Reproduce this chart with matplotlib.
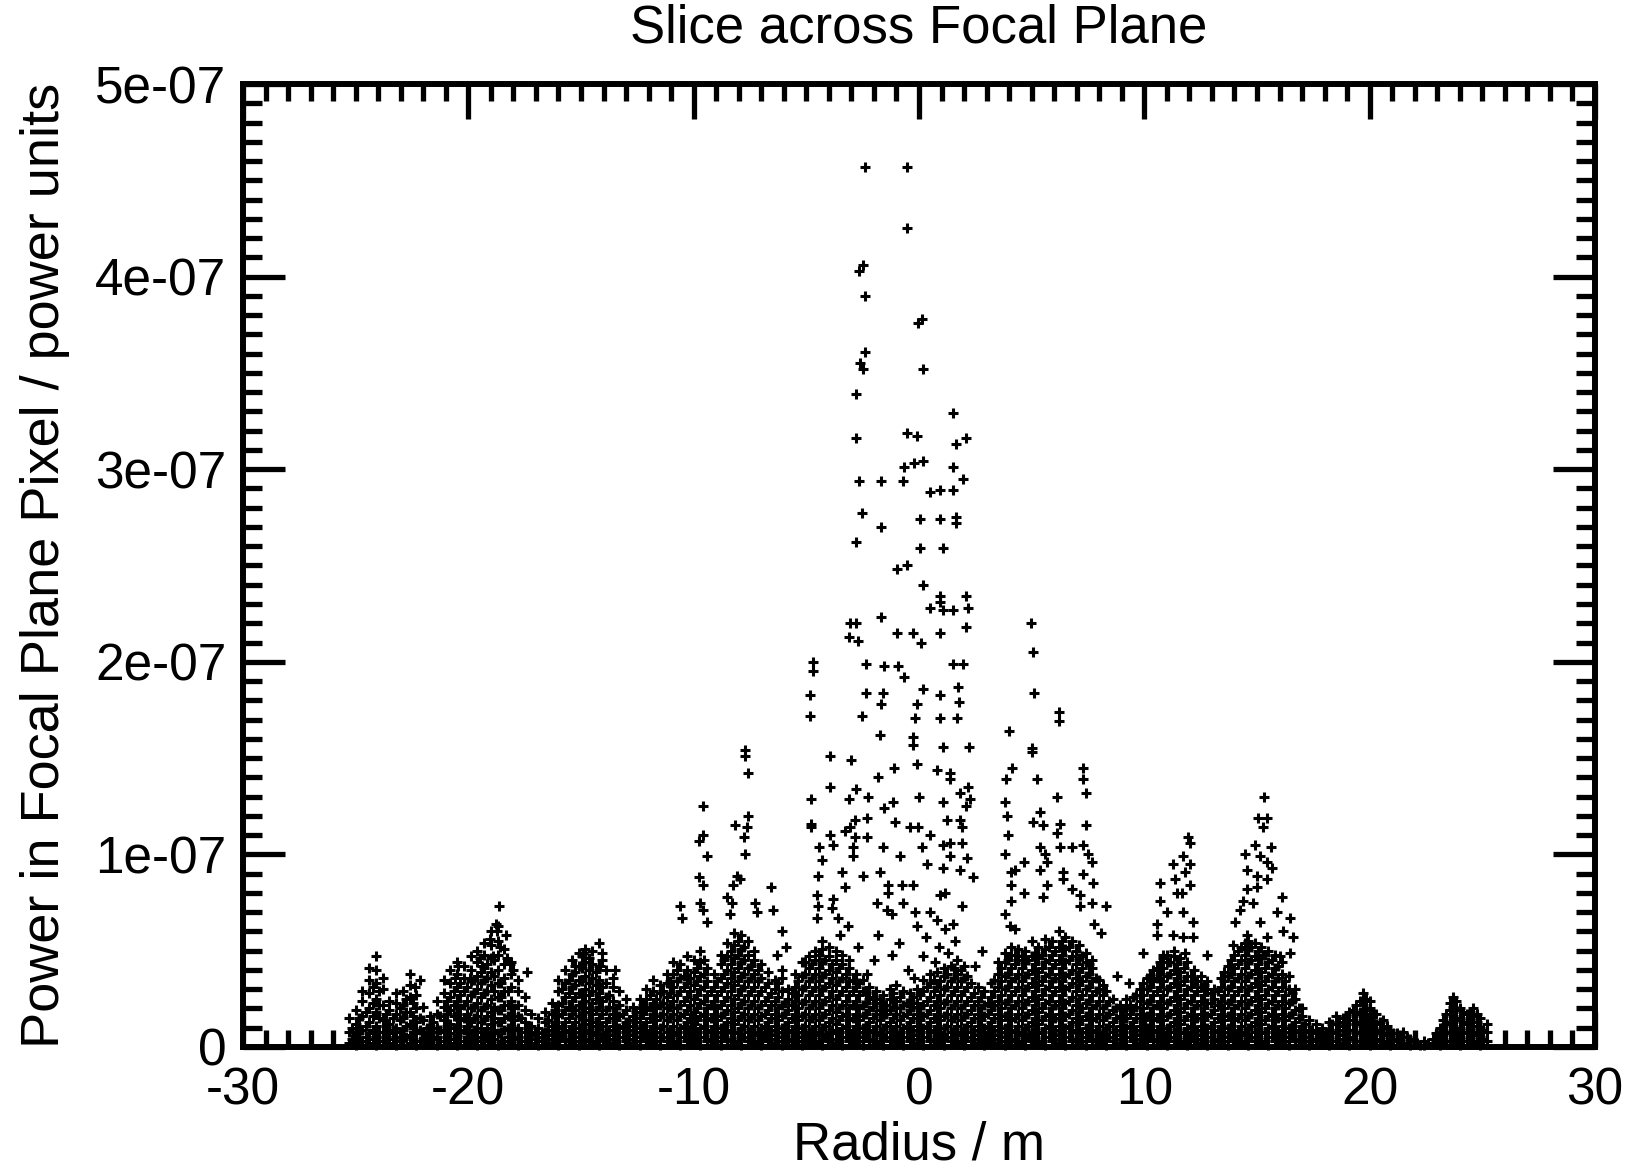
import matplotlib
matplotlib.use('Agg')
import matplotlib.pyplot as plt
from matplotlib.ticker import MultipleLocator, FuncFormatter

plt.rcParams['font.family'] = ['Liberation Sans', 'DejaVu Sans']
plt.rcParams['axes.unicode_minus'] = False

# power values are in units of 1e-9 (power units), radius in m

# sparse points of the central lobe
core_points = [
    (-2.4, 457), (-0.53, 457), (-0.53, 425), (-2.65, 403), (-2.5, 406), (-2.4, 390),
    (-0.05, 376), (0.15, 378), (-2.4, 361), (-2.6, 355), (-2.5, 352), (0.18, 352),
    (-2.8, 339), (1.5, 329), (-2.8, 316), (-0.53, 319), (-0.1, 317), (1.64, 313),
    (2.09, 316), (-0.66, 301), (-0.22, 303), (0.18, 304), (1.5, 301), (1.95, 295),
    (-2.66, 294), (-1.68, 294), (-0.71, 294), (0.5, 288), (0.93, 289), (1.5, 289),
    (-2.53, 277), (-1.68, 270), (0.05, 274), (0.93, 274), (1.64, 272), (1.64, 275),
    (-2.8, 262), (0.05, 259), (1.07, 259), (-0.97, 248), (-0.53, 250),
    (0.18, 240), (0.93, 234), (0.93, 231), (0.5, 228), (1.07, 227), (1.5, 227),
    (2.09, 234), (2.18, 228), (-1.68, 223), (-3.06, 220), (-2.8, 220), (-3.1, 213),
    (-2.7, 211), (-0.97, 215), (-0.26, 215), (0.09, 210), (0.93, 215), (2.09, 218),
    (-4.7, 200), (-4.7, 195), (-2.35, 199), (-1.55, 198), (-0.93, 198), (-0.66, 192),
    (1.5, 199), (1.95, 199), (-4.84, 183), (-4.84, 172), (-2.35, 184), (-1.6, 184),
    (-1.68, 178), (-2.53, 172), (0.18, 186), (0.93, 183), (1.73, 187), (1.78, 179),
    (-0.1, 178), (-0.18, 171), (0.93, 171), (1.69, 171), (-1.73, 162), (-0.26, 161),
    (-0.26, 157), (1.07, 156), (2.22, 156), (-3.95, 151), (-3.0, 149), (-1.1, 145),
    (-1.8, 140), (-0.1, 147), (0.8, 144), (1.38, 142), (1.38, 139), (-3.95, 135),
    (-2.8, 134), (-2.26, 130), (-3.1, 129), (-4.8, 129), (0.0, 130), (1.07, 127),
    (1.82, 132), (2.18, 135), (2.27, 129), (2.09, 125), (-1.15, 127), (-1.55, 124),
    (-4.8, 116), (-4.8, 114), (-2.84, 118), (-2.3, 119), (-3.06, 114), (-3.28, 112),
    (-2.84, 109), (-2.3, 109), (-3.95, 110), (-3.8, 105), (-2.93, 104), (-2.93, 99),
    (-1.06, 117), (-0.4, 114), (-0.04, 114), (0.5, 110), (1.24, 118), (1.82, 118),
    (1.9, 114), (1.38, 106), (1.9, 106), (1.07, 105), (-4.44, 104), (-4.3, 97),
    (-1.6, 104), (-0.84, 99), (0.14, 104), (0.36, 95), (1.07, 93), (1.38, 99),
    (2.13, 98), (1.82, 92), (2.4, 88), (-4.48, 89), (-3.42, 91), (-3.28, 83),
    (-2.48, 89), (-1.73, 91), (-1.37, 84), (-0.75, 84), (-0.26, 84), (-1.37, 80),
    (0.93, 79), (1.16, 80), (-4.53, 79), (-4.48, 73), (-4.53, 67), (-3.82, 77),
    (-3.86, 72), (-3.6, 67), (-3.15, 63), (-1.86, 75), (-1.42, 71), (-1.2, 69),
    (-0.71, 75), (-0.18, 70), (0.5, 70), (0.8, 66), (1.9, 73), (1.5, 64), (1.16, 61),
    (-0.1, 63), (-2.0, 45), (-1.2, 48), (-0.5, 40), (0.2, 47), (0.9, 52), (1.6, 55),
    (2.5, 42), (-2.7, 52), (-3.5, 58), (-1.8, 58), (0.3, 57), (2.8, 50), (-0.9, 54),
    (1.3, 49), (-2.3, 38), (-0.2, 36), (0.7, 44),
]

# sparse points of the side lobes
left_lobe_points = [
    (-7.72, 154), (-7.72, 151), (-7.6, 142), (-9.58, 125), (-7.6, 120), (-8.16, 115),
    (-7.63, 114), (-7.77, 109), (-9.58, 110), (-9.76, 107), (-9.4, 99), (-7.72, 100),
    (-8.08, 89), (-7.94, 87), (-8.25, 84), (-9.76, 88), (-9.58, 84), (-6.57, 83),
    (-10.6, 73), (-10.5, 67), (-9.7, 75), (-9.6, 71), (-9.4, 65), (-8.5, 78),
    (-8.3, 75), (-8.4, 69), (-7.28, 75), (-7.2, 70), (-6.48, 71), (-6.1, 60),
    (-5.9, 52), (-6.3, 48), (-18.64, 73), (-18.77, 64), (-18.73, 60), (-18.33, 58),
    (-19.04, 56), (-18.6, 52), (-18.9, 47), (-18.28, 46), (-19.48, 46), (-19.4, 42),
    (-18.15, 43), (-18.0, 40), (-17.4, 39), (-20.46, 42), (-20.6, 36), (-19.93, 36),
    (-22.15, 35), (-22.37, 31), (-14.2, 54), (-14.07, 49), (-14.07, 45), (-14.9, 49),
    (-15.27, 42), (-14.15, 42), (-13.5, 40),
]

right_lobe_points = [
    (4.0, 164), (4.13, 145), (3.86, 139), (3.82, 127), (3.9, 120), (3.82, 100),
    (4.09, 91), (4.09, 84), (4.09, 76), (3.82, 69), (4.04, 63), (4.26, 61),
    (4.97, 220), (5.06, 205), (5.1, 184), (6.22, 174), (6.22, 169), (5.0, 155),
    (5.0, 153), (7.28, 145), (7.28, 139), (7.41, 132), (5.24, 139), (6.13, 130),
    (5.37, 122), (5.06, 117), (5.5, 115), (6.26, 116), (6.13, 111), (7.41, 115),
    (3.95, 110), (5.37, 104), (5.6, 100), (6.26, 104), (6.8, 104), (7.28, 105),
    (7.5, 100), (7.68, 96), (4.26, 92), (4.66, 96), (5.37, 92), (5.68, 96), (6.4, 91),
    (7.28, 90), (7.72, 85), (4.66, 80), (5.5, 78), (5.68, 84), (6.4, 87), (6.8, 82),
    (7.15, 79), (7.68, 75), (8.3, 73), (7.15, 73), (7.77, 64), (8.08, 59), (8.8, 37),
    (9.3, 33),
    (11.94, 109), (12.03, 106), (11.7, 99), (11.28, 95), (12.03, 95), (11.8, 91),
    (10.7, 85), (11.37, 87), (12.03, 84), (11.68, 80), (11.46, 80), (10.7, 76),
    (10.57, 64), (11.0, 70), (11.7, 70), (12.17, 65), (10.57, 58), (11.28, 58),
    (11.7, 57), (12.17, 57), (9.95, 49), (10.83, 48), (11.8, 49), (12.8, 48),
    (15.32, 130), (15.05, 119), (15.45, 119), (15.27, 114), (14.9, 105), (15.6, 104),
    (14.47, 100), (15.14, 99), (15.45, 96), (15.67, 93), (14.56, 92), (15.0, 89),
    (15.45, 87), (14.56, 82), (15.0, 83), (14.38, 76), (14.83, 75), (16.1, 78),
    (14.25, 71), (14.03, 65), (15.14, 65), (15.9, 70), (16.47, 67), (14.56, 58),
    (15.45, 57), (16.16, 60), (16.6, 57), (13.94, 53), (14.56, 51), (15.27, 48),
    (16.02, 47), (16.47, 49),
]

# dense low band: radius column and the powers seen in it
band_left = [
    (-25.3, [2, 8, 15]), (-25.0, [1, 6, 12, 19]), (-24.7, [3, 9, 16, 24, 29]),
    (-24.4, [2, 7, 13, 20, 28, 35, 41]), (-24.1, [1, 5, 11, 18, 25, 33, 40, 47]),
    (-23.8, [3, 8, 14, 22, 30, 36]), (-23.5, [2, 7, 12, 19, 24]),
    (-23.2, [1, 5, 10, 17, 23, 28]), (-22.9, [4, 9, 15, 22, 29]),
    (-22.6, [2, 6, 12, 18, 26, 32, 38]), (-22.3, [1, 7, 13, 20, 27]),
    (-22.0, [3, 8, 14, 21]), (-21.7, [2, 6, 11, 16]), (-21.4, [1, 5, 10, 17, 24]),
    (-21.1, [3, 8, 14, 21, 28, 35]), (-20.8, [2, 7, 12, 19, 26, 33, 40]),
    (-20.5, [1, 6, 11, 17, 24, 31, 38, 44]), (-20.2, [3, 9, 15, 22, 29, 36, 42]),
    (-19.9, [2, 7, 13, 20, 27, 34, 40, 47]), (-19.6, [1, 5, 10, 16, 23, 30, 37, 44, 50]),
    (-19.3, [3, 8, 14, 21, 28, 35, 41, 48, 54]),
    (-19.0, [2, 6, 12, 18, 25, 32, 39, 46, 53, 60]),
    (-18.7, [1, 7, 13, 19, 26, 33, 40, 48, 55, 63]),
    (-18.4, [3, 9, 15, 22, 29, 36, 43, 51]), (-18.1, [2, 6, 11, 17, 24, 31, 38, 44]),
    (-17.8, [1, 5, 10, 16, 22, 29, 35]), (-17.5, [3, 8, 13, 19, 26]),
    (-17.2, [2, 6, 11, 17]), (-16.9, [1, 5, 10, 15]), (-16.6, [3, 8, 13, 18]),
    (-16.3, [2, 6, 11, 17, 23]), (-16.0, [1, 5, 10, 16, 22, 29, 35]),
    (-15.7, [3, 8, 13, 19, 26, 33, 40]), (-15.4, [2, 6, 11, 17, 24, 31, 38, 45]),
    (-15.1, [1, 5, 10, 16, 22, 28, 35, 42, 49]),
    (-14.8, [3, 7, 12, 18, 24, 30, 37, 44, 51]),
    (-14.5, [2, 6, 11, 17, 23, 29, 36, 43, 50]),
    (-14.2, [1, 5, 10, 15, 21, 28, 35, 42]), (-13.9, [3, 8, 13, 19, 26, 33, 40]),
    (-13.6, [2, 6, 11, 17, 24, 31, 36]), (-13.3, [1, 5, 10, 16, 22, 29]),
    (-13.0, [3, 8, 13, 19, 25]), (-12.7, [2, 6, 11, 16, 21]),
    (-12.4, [1, 5, 10, 15, 20, 25]), (-12.1, [3, 8, 13, 19, 25, 30]),
    (-11.8, [2, 6, 11, 17, 23, 29, 35]), (-11.5, [1, 5, 10, 16, 22, 28, 32]),
    (-11.2, [3, 8, 14, 20, 26, 33, 38]),
]

band_middle = [
    (-10.9, [2, 6, 11, 17, 24, 31, 38, 44]), (-10.6, [1, 5, 10, 16, 22, 29, 36, 43]),
    (-10.3, [3, 8, 13, 19, 26, 33, 40, 47]), (-10.0, [2, 7, 12, 18, 25, 32, 39, 45]),
    (-9.7, [1, 5, 10, 16, 23, 30, 37, 44, 50]), (-9.4, [3, 8, 14, 20, 27, 34, 41]),
    (-9.1, [2, 6, 11, 17, 24, 31, 38]), (-8.8, [1, 5, 10, 16, 22, 29, 36, 43, 48]),
    (-8.5, [3, 8, 13, 19, 26, 33, 40, 47, 54]),
    (-8.2, [2, 7, 12, 18, 25, 32, 39, 46, 53, 59]),
    (-7.9, [1, 5, 10, 16, 23, 30, 37, 44, 51, 58]),
    (-7.6, [3, 8, 14, 20, 27, 34, 41, 48, 55]),
    (-7.3, [2, 6, 11, 17, 24, 31, 38, 45, 50]), (-7.0, [1, 5, 10, 16, 22, 29, 36, 43]),
    (-6.7, [3, 8, 13, 19, 26, 33, 39]), (-6.4, [2, 6, 11, 17, 24, 30, 35]),
    (-6.1, [1, 5, 10, 16, 22, 29, 36, 40]), (-5.8, [3, 8, 13, 19, 25, 30]),
    (-5.5, [2, 6, 11, 17, 24, 31, 38]), (-5.2, [1, 5, 10, 16, 23, 30, 37, 44]),
    (-4.9, [3, 8, 14, 20, 27, 34, 41, 47]), (-4.6, [2, 6, 11, 17, 24, 31, 38, 45, 50]),
    (-4.3, [1, 5, 10, 16, 23, 30, 37, 44, 51, 55]),
    (-4.0, [3, 8, 13, 19, 26, 33, 40, 47, 52]),
    (-3.7, [2, 7, 12, 18, 25, 32, 39, 45, 50]),
    (-3.4, [1, 5, 10, 16, 22, 29, 36, 43, 48]), (-3.1, [3, 8, 14, 20, 27, 34, 41, 45]),
    (-2.8, [2, 6, 11, 17, 24, 31, 38]), (-2.5, [1, 5, 10, 16, 22, 29, 35]),
    (-2.2, [3, 8, 13, 19, 25, 31]), (-1.9, [2, 6, 11, 17, 23, 29]),
    (-1.6, [1, 5, 10, 16, 22, 27]), (-1.3, [3, 8, 13, 19, 25, 30]),
    (-1.0, [2, 6, 11, 17, 24, 32]), (-0.7, [1, 5, 10, 16, 22, 29]),
    (-0.4, [3, 8, 13, 19, 24, 28]), (-0.1, [2, 6, 11, 17, 23, 30]),
    (0.2, [1, 5, 10, 16, 22, 29, 35]), (0.5, [3, 8, 13, 19, 26, 33, 38]),
    (0.8, [2, 6, 11, 17, 24, 31, 39]), (1.1, [1, 5, 10, 16, 23, 30, 37, 41]),
    (1.4, [3, 8, 14, 20, 27, 34, 42]), (1.7, [2, 6, 11, 17, 24, 31, 38, 45]),
    (2.0, [1, 5, 10, 16, 22, 29, 36, 42]), (2.3, [3, 8, 13, 19, 26, 33]),
    (2.6, [2, 6, 11, 17, 24, 31]), (2.9, [1, 5, 10, 16, 22, 29]),
]

band_right = [
    (3.2, [3, 8, 13, 19, 26, 33]), (3.5, [2, 6, 11, 17, 24, 31, 38, 44]),
    (3.8, [1, 5, 10, 16, 23, 30, 37, 44, 49]), (4.1, [3, 8, 14, 20, 27, 34, 41, 48, 52]),
    (4.4, [2, 6, 11, 17, 24, 31, 38, 45, 51]), (4.7, [1, 5, 10, 16, 23, 30, 37, 44, 50]),
    (5.0, [3, 8, 13, 19, 26, 33, 40, 47, 55]), (5.3, [2, 7, 12, 18, 25, 32, 39, 46, 52]),
    (5.6, [1, 5, 10, 16, 23, 30, 37, 44, 51, 56]),
    (5.9, [3, 8, 14, 20, 27, 34, 41, 48, 55]),
    (6.2, [2, 6, 11, 17, 24, 31, 38, 45, 52, 60]),
    (6.5, [1, 5, 10, 16, 23, 30, 37, 44, 51, 57]),
    (6.8, [3, 8, 13, 19, 26, 33, 40, 47, 55]),
    (7.1, [2, 7, 12, 18, 25, 32, 39, 46, 53]),
    (7.4, [1, 5, 10, 16, 23, 30, 37, 44, 49]), (7.7, [3, 8, 14, 20, 27, 34, 41, 45]),
    (8.0, [2, 6, 11, 17, 24, 30, 35]), (8.3, [1, 5, 10, 16, 22, 29]),
    (8.6, [3, 8, 13, 19, 25]), (8.9, [2, 6, 11, 16, 22]),
    (9.2, [1, 5, 10, 15, 20, 25]), (9.5, [3, 8, 13, 19, 26]),
    (9.8, [2, 6, 11, 17, 24, 30]), (10.1, [1, 5, 10, 16, 23, 30, 36]),
    (10.4, [3, 8, 14, 20, 27, 34, 40]), (10.7, [2, 6, 11, 17, 24, 31, 38, 44]),
    (11.0, [1, 5, 10, 16, 23, 30, 37, 44, 48]),
    (11.3, [3, 8, 13, 19, 26, 33, 40, 47, 50]),
    (11.6, [2, 7, 12, 18, 25, 32, 39, 46]), (11.9, [1, 5, 10, 16, 23, 30, 37, 44]),
    (12.2, [3, 8, 14, 20, 27, 34, 40]), (12.5, [2, 6, 11, 17, 24, 31, 37]),
    (12.8, [1, 5, 10, 16, 23, 30, 34]), (13.1, [3, 8, 13, 19, 25, 30]),
    (13.4, [2, 6, 11, 17, 24, 31, 36]), (13.7, [1, 5, 10, 16, 23, 30, 37, 42]),
    (14.0, [3, 8, 14, 20, 27, 34, 41, 48]),
    (14.3, [2, 6, 11, 17, 24, 31, 38, 45, 52]),
    (14.6, [1, 5, 10, 16, 23, 30, 37, 44, 51, 55]),
    (14.9, [3, 8, 13, 19, 26, 33, 40, 47, 54]),
    (15.2, [2, 7, 12, 18, 25, 32, 39, 46, 52]),
    (15.5, [1, 5, 10, 16, 23, 30, 37, 44, 50]),
    (15.8, [3, 8, 14, 20, 27, 34, 41, 48]), (16.1, [2, 6, 11, 17, 24, 31, 38, 44]),
    (16.4, [1, 5, 10, 16, 23, 30, 37]), (16.7, [3, 8, 13, 19, 25, 30]),
    (17.0, [2, 6, 11, 16, 20]), (17.3, [1, 5, 9, 14]), (17.6, [3, 7, 12]),
    (17.9, [2, 6, 10]), (18.2, [1, 5, 9, 13]), (18.5, [3, 7, 12, 16]),
    (18.8, [2, 6, 11, 15]), (19.1, [1, 5, 9, 14, 18]), (19.4, [3, 7, 12, 17, 22]),
    (19.7, [2, 6, 11, 16, 22, 28]), (20.0, [1, 5, 10, 15, 20, 24]),
    (20.3, [3, 7, 12, 17]), (20.6, [2, 6, 10, 14]), (20.9, [1, 5, 9]),
    (21.2, [3, 7]), (21.5, [2, 5, 8]), (21.8, [1, 4]), (22.1, [2]), (22.4, [1, 3]),
    (22.8, [2, 4]), (23.1, [1, 5, 10]), (23.4, [3, 7, 12, 17]),
    (23.7, [2, 6, 11, 16, 21, 26]), (24.0, [1, 5, 10, 15, 20]),
    (24.3, [3, 7, 12, 17]), (24.6, [2, 6, 11, 16, 20]), (24.9, [1, 5, 10, 15]),
    (25.2, [3, 8, 12]),
]

# pixels lying between the band columns above
band_between = [
    (-25.15, [4, 10]), (-24.85, [3, 9, 15]), (-24.55, [5, 11, 18]),
    (-24.25, [4, 9, 16, 23, 31]), (-23.95, [3, 8, 15, 22, 29]), (-23.65, [5, 11, 17]),
    (-23.35, [4, 9, 15]), (-23.05, [3, 8, 14, 20]), (-22.75, [5, 11, 18, 25]),
    (-22.45, [4, 10, 16, 23]), (-22.15, [3, 9, 15]), (-21.85, [5, 10]),
    (-21.55, [4, 8, 13]), (-21.25, [3, 9, 16]), (-20.95, [5, 11, 17, 24]),
    (-20.65, [4, 10, 16, 22, 29]), (-20.35, [3, 8, 14, 20, 27, 33]),
    (-20.05, [5, 11, 17, 24, 31]), (-19.75, [4, 9, 15, 21, 28, 35]),
    (-19.45, [3, 8, 13, 19, 26, 33, 39]), (-19.15, [5, 10, 16, 22, 29, 36, 43]),
    (-18.85, [4, 9, 15, 21, 29, 37, 45]), (-18.55, [3, 8, 13, 19, 26, 33]),
    (-18.25, [5, 10, 16, 22, 29]), (-17.95, [4, 9, 14, 20]), (-17.65, [3, 8, 15]),
    (-17.35, [5, 10]), (-17.05, [4, 8]), (-16.75, [3, 7]), (-16.45, [4, 9, 14]),
    (-16.15, [3, 8, 13, 19]), (-15.85, [5, 11, 17, 23, 30]),
    (-15.55, [4, 9, 15, 21, 28, 35]), (-15.25, [3, 8, 13, 19, 26, 32, 39]),
    (-14.95, [5, 10, 15, 21, 27, 34, 41, 47]), (-14.65, [4, 9, 14, 20, 27, 33, 40, 46]),
    (-14.35, [3, 8, 13, 19, 25, 32, 39]), (-14.05, [5, 11, 17, 24, 31]),
    (-13.75, [4, 9, 15, 21, 27]), (-13.45, [3, 8, 14, 20]), (-13.15, [5, 11, 17]),
    (-12.85, [4, 9, 14]), (-12.55, [3, 8, 13, 18]), (-12.25, [5, 11, 17, 22]),
    (-11.95, [4, 9, 15, 21, 27]), (-11.65, [3, 8, 14, 20, 25]),
    (-11.35, [5, 11, 17, 23, 29]), (-11.05, [4, 9, 15, 21, 28, 34]),
    (-10.75, [3, 8, 14, 20, 27, 34, 40]), (-10.45, [5, 11, 17, 24, 31, 37]),
    (-10.15, [4, 9, 15, 22, 29, 36]), (-9.85, [3, 8, 14, 20, 27, 34, 41]),
    (-9.55, [5, 11, 17, 24, 31, 38, 45]), (-9.25, [4, 9, 15, 22, 29]),
    (-8.95, [3, 8, 14, 20, 27, 34]), (-8.65, [5, 11, 17, 24, 31, 38, 45]),
    (-8.35, [4, 9, 15, 22, 29, 36, 43, 50]), (-8.05, [3, 8, 14, 20, 27, 34, 41, 48, 55]),
    (-7.75, [5, 11, 17, 24, 31, 38, 45, 52]), (-7.45, [4, 9, 15, 22, 29, 36, 42]),
    (-7.15, [3, 8, 14, 20, 27, 34, 40]), (-6.85, [5, 11, 17, 24, 31]),
    (-6.55, [4, 9, 15, 22, 28]), (-6.25, [3, 8, 14, 20, 26, 33]),
    (-5.95, [5, 11, 17, 23]), (-5.65, [4, 9, 15, 22, 28]),
    (-5.35, [3, 8, 14, 20, 27, 34]), (-5.05, [5, 11, 17, 24, 31, 38, 44]),
    (-4.75, [4, 9, 15, 22, 29, 36, 43]), (-4.45, [3, 8, 14, 20, 27, 34, 41, 48]),
    (-4.15, [5, 11, 17, 24, 31, 38, 45]), (-3.85, [4, 9, 15, 22, 29, 36, 43]),
    (-3.55, [3, 8, 14, 20, 27, 34, 41]), (-3.25, [5, 11, 17, 24, 31, 38]),
    (-2.95, [4, 9, 15, 22, 29, 35]), (-2.65, [3, 8, 14, 20, 27, 33]),
    (-2.35, [5, 11, 17, 23, 28]), (-2.05, [4, 9, 15, 21, 26]),
    (-1.75, [3, 8, 14, 19, 25]), (-1.45, [5, 11, 17, 22]),
    (-1.15, [4, 9, 15, 21, 28]), (-0.85, [3, 8, 14, 20, 26]),
    (-0.55, [5, 11, 17, 23]), (-0.25, [4, 9, 15, 21, 26]), (0.05, [3, 8, 14, 20, 27]),
    (0.35, [5, 11, 17, 24, 31]), (0.65, [4, 9, 15, 22, 29, 35]),
    (0.95, [3, 8, 14, 20, 27, 34]), (1.25, [5, 11, 17, 24, 31, 38]),
    (1.55, [4, 9, 15, 22, 29, 36, 41]), (1.85, [3, 8, 14, 20, 27, 34, 40]),
    (2.15, [5, 11, 17, 24, 31, 37]), (2.45, [4, 9, 15, 22, 28]),
    (2.75, [3, 8, 14, 20, 26]), (3.05, [5, 11, 17, 23]),
    (3.35, [4, 9, 15, 22, 29, 35]), (3.65, [3, 8, 14, 20, 27, 34, 41]),
    (3.95, [5, 11, 17, 24, 31, 38, 45]), (4.25, [4, 9, 15, 22, 29, 36, 43, 48]),
    (4.55, [3, 8, 14, 20, 27, 34, 41, 47]), (4.85, [5, 11, 17, 24, 31, 38, 45]),
    (5.15, [4, 9, 15, 22, 29, 36, 43, 49]), (5.45, [3, 8, 14, 20, 27, 34, 41, 48]),
    (5.75, [5, 11, 17, 24, 31, 38, 45, 52]), (6.05, [4, 9, 15, 22, 29, 36, 43, 50]),
    (6.35, [3, 8, 14, 20, 27, 34, 41, 48, 55]), (6.65, [5, 11, 17, 24, 31, 38, 45, 52]),
    (6.95, [4, 9, 15, 22, 29, 36, 43, 50]), (7.25, [3, 8, 14, 20, 27, 34, 41, 47]),
    (7.55, [5, 11, 17, 24, 31, 38, 43]), (7.85, [4, 9, 15, 22, 29, 36]),
    (8.15, [3, 8, 14, 20, 27, 32]), (8.45, [5, 11, 17, 24]), (8.75, [4, 9, 15, 20]),
    (9.05, [3, 8, 14, 19]), (9.35, [5, 11, 17, 22]), (9.65, [4, 9, 15, 21, 27]),
    (9.95, [3, 8, 14, 20, 27, 33]), (10.25, [5, 11, 17, 24, 31, 37]),
    (10.55, [4, 9, 15, 22, 29, 36, 41]), (10.85, [3, 8, 14, 20, 27, 34, 41, 46]),
    (11.15, [5, 11, 17, 24, 31, 38, 44]), (11.45, [4, 9, 15, 22, 29, 36, 43]),
    (11.75, [3, 8, 14, 20, 27, 34, 41]), (12.05, [5, 11, 17, 24, 31, 37]),
    (12.35, [4, 9, 15, 22, 29, 34]), (12.65, [3, 8, 14, 20, 27, 32]),
    (12.95, [5, 11, 17, 23, 28]), (13.25, [4, 9, 15, 22, 29]),
    (13.55, [3, 8, 14, 20, 27, 34, 39]), (13.85, [5, 11, 17, 24, 31, 38, 45]),
    (14.15, [4, 9, 15, 22, 29, 36, 43, 50]), (14.45, [3, 8, 14, 20, 27, 34, 41, 48, 54]),
    (14.75, [5, 11, 17, 24, 31, 38, 45, 52]), (15.05, [4, 9, 15, 22, 29, 36, 43, 50]),
    (15.35, [3, 8, 14, 20, 27, 34, 41, 48]), (15.65, [5, 11, 17, 24, 31, 38, 45]),
    (15.95, [4, 9, 15, 22, 29, 36, 42]), (16.25, [3, 8, 14, 20, 27, 34]),
    (16.55, [5, 11, 17, 24, 28]), (16.85, [4, 9, 15, 20]), (17.15, [3, 8, 12]),
    (17.45, [4, 9]), (17.75, [3, 7]), (18.05, [4, 8]), (18.35, [3, 8, 12]),
    (18.65, [4, 9, 13]), (18.95, [3, 8, 12, 16]), (19.25, [4, 9, 14, 19]),
    (19.55, [3, 8, 13, 18, 24]), (19.85, [4, 9, 14, 19, 25]), (20.15, [3, 8, 13, 17]),
    (20.45, [4, 9, 13]), (20.75, [3, 7, 11]), (21.05, [4, 7]), (21.35, [3, 6]),
    (21.65, [2, 5]), (21.95, [3]), (22.25, [1]), (22.6, [2]), (22.95, [3, 7]),
    (23.25, [4, 9, 14]), (23.55, [3, 8, 13, 19, 23]), (23.85, [4, 9, 14, 19, 24]),
    (24.15, [3, 8, 13, 18]), (24.45, [4, 9, 14, 18]), (24.75, [3, 8, 13, 17]),
    (25.05, [4, 9]),
]

x_ticks = [-30, -20, -10, 0, 10, 20, 30]
y_ticks = [0, 1e-7, 2e-7, 3e-7, 4e-7, 5e-7]


radius = []
power = []
for pts in (core_points, left_lobe_points, right_lobe_points):
    for r, p in pts:
        radius.append(r)
        power.append(p * 1e-9)
for band in (band_left, band_middle, band_right, band_between):
    for r, ps in band:
        for p in ps:
            radius.append(r)
            power.append(p * 1e-9)

fig = plt.figure(figsize=(16.45, 11.72), dpi=100)
ax = fig.add_axes([0.1477, 0.1067, 0.8219, 0.8216])

ax.plot(radius, power, '+', color='black', markersize=7, markeredgewidth=2.2,
        antialiased=False, clip_on=False)

ax.set_xlim(-30, 30)
ax.set_ylim(0, 5e-7)
ax.set_xticks(x_ticks)
ax.set_yticks(y_ticks)
ax.xaxis.set_minor_locator(MultipleLocator(1))
ax.yaxis.set_minor_locator(MultipleLocator(1e-8))
ax.yaxis.set_major_formatter(FuncFormatter(lambda v, pos: '0' if v == 0 else '%.0e' % v))

for side in ax.spines.values():
    side.set_linewidth(4.3)
ax.tick_params(which='both', direction='in', top=True, right=True, width=3.8,
               labelsize=37, color='black')
ax.tick_params(axis='x', which='major', length=25, pad=14)
ax.tick_params(axis='x', which='minor', length=12)
ax.tick_params(axis='y', which='major', length=30, pad=12)
ax.tick_params(axis='y', which='minor', length=14)

ax.set_title('Slice across Focal Plane', fontsize=38, pad=30)
ax.set_xlabel('Radius / m', fontsize=38, labelpad=4)
ax.set_ylabel('Power in Focal Plane Pixel / power units', fontsize=39, labelpad=18)

fig.savefig('out.png', dpi=100)
